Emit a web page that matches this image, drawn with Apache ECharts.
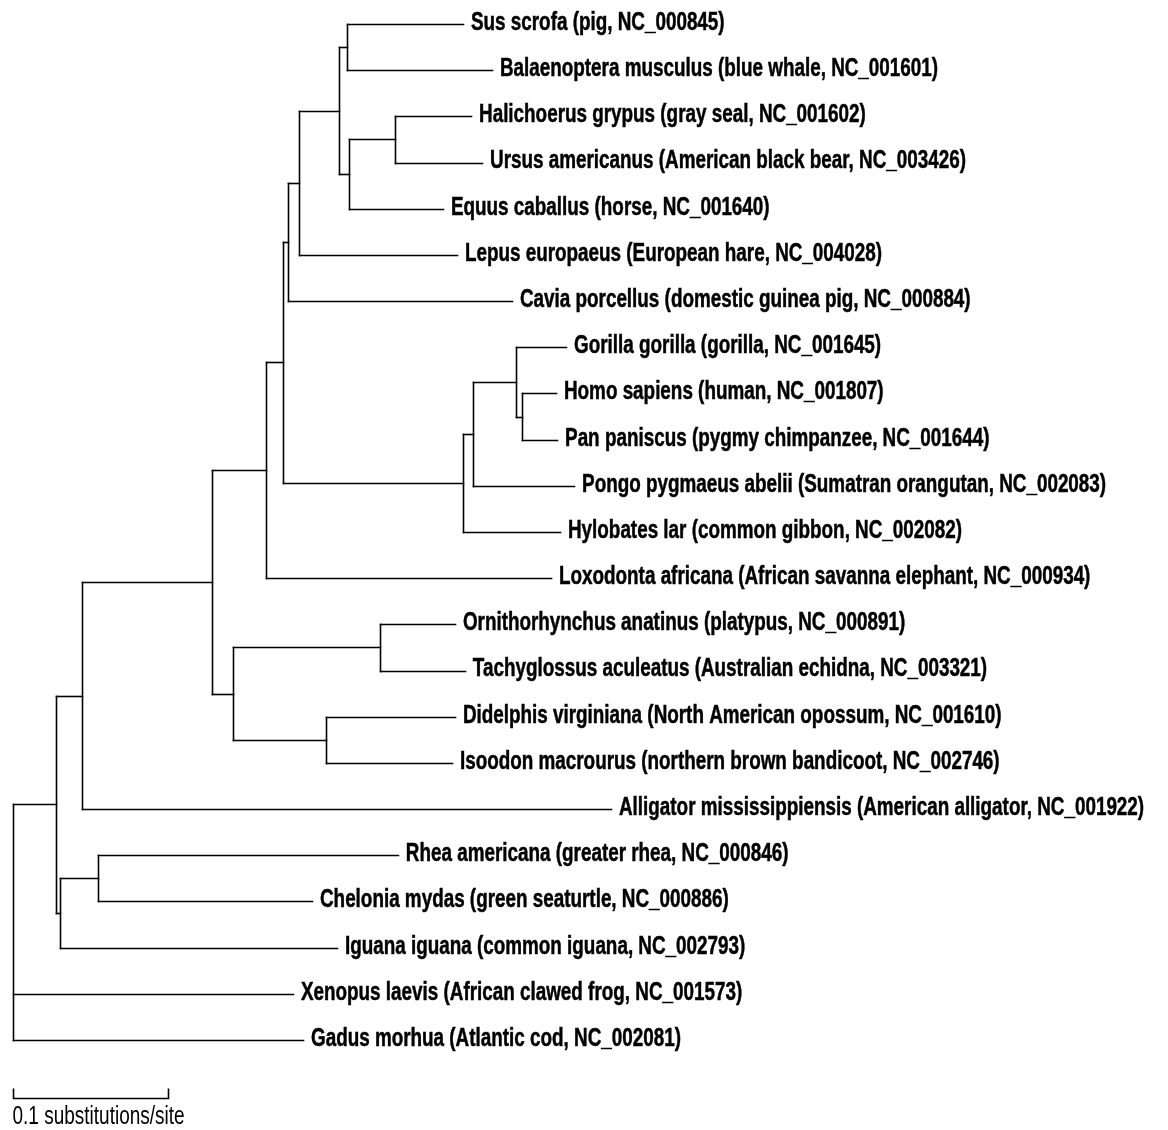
<!DOCTYPE html>
<html>
<head>
<meta charset="utf-8">
<script src="https://cdn.jsdelivr.net/npm/echarts@6/dist/echarts.min.js"></script>
<style>
html,body{margin:0;padding:0;background:#fff;}
#chart{width:1168px;height:1130px;}
</style>
</head>
<body>
<div id="chart"></div>
<script>
// Leaf labels (top to bottom)
const taxa = [
  'Sus scrofa (pig, NC_000845)',
  'Balaenoptera musculus (blue whale, NC_001601)',
  'Halichoerus grypus (gray seal, NC_001602)',
  'Ursus americanus (American black bear, NC_003426)',
  'Equus caballus (horse, NC_001640)',
  'Lepus europaeus (European hare, NC_004028)',
  'Cavia porcellus (domestic guinea pig, NC_000884)',
  'Gorilla gorilla (gorilla, NC_001645)',
  'Homo sapiens (human, NC_001807)',
  'Pan paniscus (pygmy chimpanzee, NC_001644)',
  'Pongo pygmaeus abelii (Sumatran orangutan, NC_002083)',
  'Hylobates lar (common gibbon, NC_002082)',
  'Loxodonta africana (African savanna elephant, NC_000934)',
  'Ornithorhynchus anatinus (platypus, NC_000891)',
  'Tachyglossus aculeatus (Australian echidna, NC_003321)',
  'Didelphis virginiana (North American opossum, NC_001610)',
  'Isoodon macrourus (northern brown bandicoot, NC_002746)',
  'Alligator mississippiensis (American alligator, NC_001922)',
  'Rhea americana (greater rhea, NC_000846)',
  'Chelonia mydas (green seaturtle, NC_000886)',
  'Iguana iguana (common iguana, NC_002793)',
  'Xenopus laevis (African clawed frog, NC_001573)',
  'Gadus morhua (Atlantic cod, NC_002081)'
];
// parent internal node of each leaf
const leafParent = ['I','I','K','K','J','G','F','S','T','T','Q','P','D','Mono','Mono','Mars','Mars','B','RC','RC','Rep','R','R'];
// branch length of each leaf (substitutions/site)
const leafBranch = [0.0748,0.0935,0.0490,0.0561,0.0606,0.1019,0.1445,0.0323,0.0219,0.0226,0.0652,0.0626,0.1839,0.0484,0.0548,0.0832,0.0813,0.3413,0.1935,0.1381,0.1787,0.1806,0.1871];
// internal nodes
const nodeIds    = ['R','A','B','C','D','E','F','G','H','I','J','K','P','Q','S','T','M','Mono','Mars','Rep','RC'];
const nodeParent = [null,'R','A','B','C','D','E','F','G','H','H','J','E','P','Q','S','C','M','M','A','Rep'];
const nodeBranch = [0,0.0277,0.0168,0.0839,0.0348,0.0110,0.0032,0.0071,0.0258,0.0052,0.0065,0.0297,0.1161,0.0065,0.0277,0.0039,0.0135,0.0948,0.0600,0.0026,0.0245];
// scale bar
const scaleBarLength = [0.1];
const scaleBarLabel = ['0.1 substitutions/site'];

// ---- compute layout in data space ----
const nodeX = {}, nodeY = {};
const idx = {};
nodeIds.forEach((id,i)=>idx[id]=i);
function depth(id){
  if (id === null) return 0;
  if (nodeX[id] !== undefined) return nodeX[id];
  const i = idx[id];
  const d = depth(nodeParent[i]) + nodeBranch[i];
  nodeX[id] = d; return d;
}
nodeIds.forEach(id=>depth(id));
const leafX = taxa.map((t,i)=>nodeX[leafParent[i]] + leafBranch[i]);
const leafY = taxa.map((t,i)=>i);
function childYs(id){
  const ys = [];
  leafParent.forEach((p,i)=>{ if(p===id) ys.push(leafY[i]); });
  nodeParent.forEach((p,i)=>{ if(p===id) ys.push(yOf(nodeIds[i])); });
  return ys;
}
function yOf(id){
  if (nodeY[id] !== undefined) return nodeY[id];
  const ys = childYs(id);
  const v = (Math.min(...ys)+Math.max(...ys))/2;
  nodeY[id] = v; return v;
}
nodeIds.forEach(id=>yOf(id));

const segs = [];
taxa.forEach((t,i)=>{
  const p = leafParent[i];
  segs.push([nodeX[p], leafY[i], leafX[i], leafY[i]]);
});
nodeIds.forEach((id,i)=>{
  const p = nodeParent[i];
  if (p !== null) segs.push([nodeX[p], nodeY[id], nodeX[id], nodeY[id]]);
});
nodeIds.forEach(id=>{
  const ys = childYs(id);
  segs.push([nodeX[id], Math.min(...ys), nodeX[id], Math.max(...ys)]);
});

const labels = taxa.map((t,i)=>[leafX[i], leafY[i], t]);

const chart = echarts.init(document.getElementById('chart'), null, {renderer:'canvas'});
const FONT = '"Liberation Sans",Arial,sans-serif';
const LABEL_SIZE = 25, NARROW = 18.86 / 25;
chart.setOption({
  backgroundColor:'#ffffff',
  animation:false,
  grid:{left:13, top:24, width:1550*0.7, height:1016, containLabel:false},
  xAxis:{type:'value', min:0, max:0.7, show:false},
  yAxis:{type:'value', min:0, max:22, inverse:true, show:false},
  series:[
    {
      type:'custom', clip:false, silent:true,
      data:segs,
      renderItem:function(params, api){
        const a = api.coord([api.value(0), api.value(1)]);
        const b = api.coord([api.value(2), api.value(3)]);
        return {type:'line', shape:{x1:Math.round(a[0])+0.5,y1:Math.round(a[1])+0.5,x2:Math.round(b[0])+0.5,y2:Math.round(b[1])+0.5},
          style:{stroke:'#000', lineWidth:1.6, lineCap:'square'}};
      }
    },
    {
      type:'custom', clip:false, silent:true,
      data:labels,
      renderItem:function(params, api){
        const a = api.coord([api.value(0), api.value(1)]);
        return {type:'text', x:a[0]+8, y:a[1]-1, scaleX:NARROW, scaleY:1,
          style:{text:labels[params.dataIndex][2], fill:'#000', stroke:'#000', lineWidth:0.5,
            font:'bold '+LABEL_SIZE+'px '+FONT, textVerticalAlign:'middle', textAlign:'left'}};
      }
    },
    {
      type:'custom', clip:false, silent:true,
      data:[[0, 23.26, scaleBarLength[0]]],
      renderItem:function(params, api){
        const a = api.coord([api.value(0), api.value(1)]);
        const b = api.coord([api.value(0)+api.value(2), api.value(1)]);
        const y = Math.round(a[1])+0.5, x1=Math.round(a[0])+0.5, x2=Math.round(b[0])+0.5;
        return {type:'group', children:[
          {type:'polyline', shape:{points:[[x1,y-10],[x1,y],[x2,y],[x2,y-10]]}, style:{stroke:'#000', lineWidth:1.6, fill:null}},
          {type:'text', x:x1-1, y:y+6, scaleX:0.76, scaleY:1, style:{text:scaleBarLabel[0], fill:'#000', font:'25px '+FONT, textVerticalAlign:'top', textAlign:'left'}}
        ]};
      }
    }
  ]
});
</script>
</body>
</html>
